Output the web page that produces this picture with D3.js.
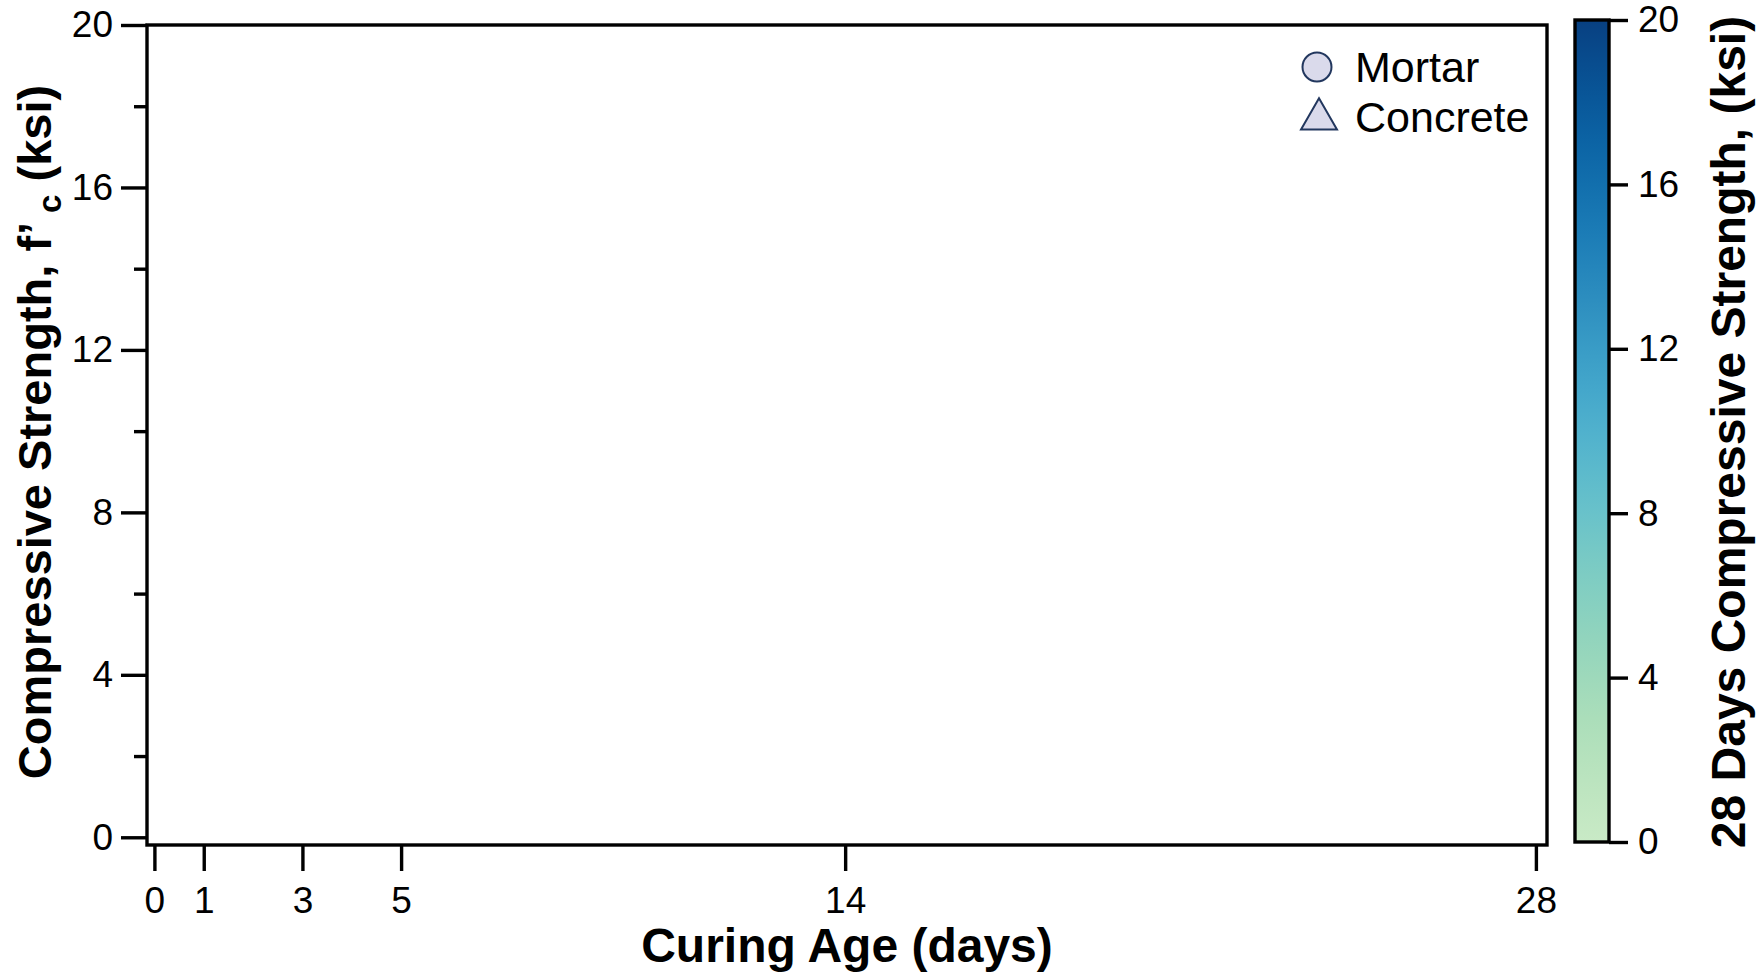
<!DOCTYPE html>
<html>
<head>
<meta charset="utf-8">
<script src="https://cdn.jsdelivr.net/npm/d3@7"></script>
<style>
  body { margin: 0; background: #fff; }
  text { font-family: "Liberation Sans", Arial, sans-serif; }
</style>
</head>
<body>
<svg id="chart"></svg>
<script>
// data
const xTicks = [0, 1, 3, 5, 14, 28];
const yMajorTicks = [0, 4, 8, 12, 16, 20];
const yMinorTicks = [2, 6, 10, 14, 18];
const colorTicks = [0, 4, 8, 12, 16, 20];
const legendLabels = ['Mortar', 'Concrete'];
const legendShapes = [d3.symbolCircle, d3.symbolTriangle];
// no measurements are plotted in the reference
const mortarPoints = [];
const concretePoints = [];

const width = 1758;
const height = 973;
const plot = { left: 147, top: 25, right: 1547, bottom: 845 };
const bar = { left: 1575, right: 1609, top: 20, bottom: 842 };
const lineW = 3.4;
const tickFont = 37;
const titleFont = 48;
const markerFill = '#dadaeb';
const markerStroke = '#22375e';

const translator = (x, y) => `translate(${x},${y})`;

const svg = d3.select('#chart')
  .attr('width', width)
  .attr('height', height);

const x = d3.scaleLinear()
  .domain([-0.15, 28.225])
  .range([plot.left, plot.right]);

const y = d3.scaleLinear()
  .domain([-0.19, 20])
  .range([plot.bottom, plot.top]);

const cScale = d3.scaleLinear()
  .domain([0, 20])
  .range([bar.bottom, bar.top]);

const colorOf = v => d3.interpolateGnBu(0.25 + 0.75 * v / 20);

function styleAxis(g) {
  g.select('.domain').remove();
  g.selectAll('line')
    .attr('stroke', '#000')
    .attr('stroke-width', lineW);
  g.selectAll('text')
    .attr('fill', '#000')
    .style('font-size', `${tickFont}px`)
    .style('font-family', '"Liberation Sans", Arial, sans-serif');
}

function drawAxes() {
  svg.append('g')
    .attr('transform', translator(plot.left, 0))
    .call(d3.axisLeft(y).tickValues(yMinorTicks).tickSize(13).tickFormat(''))
    .call(styleAxis);

  svg.append('g')
    .attr('transform', translator(plot.left, 0))
    .call(d3.axisLeft(y).tickValues(yMajorTicks).tickSize(26).tickPadding(8))
    .call(styleAxis);

  svg.append('g')
    .attr('transform', translator(0, plot.bottom))
    .call(d3.axisBottom(x).tickValues(xTicks).tickSize(26).tickPadding(16))
    .call(styleAxis);

  svg.append('rect')
    .attr('x', plot.left)
    .attr('y', plot.top)
    .attr('width', plot.right - plot.left)
    .attr('height', plot.bottom - plot.top)
    .attr('fill', 'none')
    .attr('stroke', '#000')
    .attr('stroke-width', lineW);

  svg.append('text')
    .attr('x', (plot.left + plot.right) / 2)
    .attr('y', 962)
    .attr('text-anchor', 'middle')
    .attr('font-weight', 'bold')
    .attr('font-size', titleFont)
    .text('Curing Age (days)');

  const yTitle = svg.append('text')
    .attr('transform', `${translator(51, (plot.top + plot.bottom) / 2 - 3)} rotate(-90)`)
    .attr('text-anchor', 'middle')
    .attr('font-weight', 'bold')
    .attr('font-size', 47);
  yTitle.append('tspan').text('Compressive Strength, f\u2019');
  yTitle.append('tspan')
    .attr('font-size', 33)
    .attr('dy', 10)
    .text(' c');
  yTitle.append('tspan')
    .attr('dy', -10)
    .text(' (ksi)');
}

function drawPoints() {
  const symbol = d3.symbol().size(700);
  [mortarPoints, concretePoints].forEach((pts, i) => {
    svg.append('g')
      .selectAll('path')
      .data(pts)
      .join('path')
      .attr('transform', d => translator(x(d.age), y(d.fc)))
      .attr('d', symbol.type(legendShapes[i]))
      .attr('fill', d => colorOf(d.fc28))
      .attr('stroke', markerStroke)
      .attr('stroke-width', 2);
  });
}

function drawLegend() {
  const g = svg.append('g')
    .attr('transform', translator(1317, 67));

  const item = g.selectAll('g')
    .data(legendLabels)
    .join('g')
    .attr('transform', (d, i) => translator(0, i * 50));

  item.append('path')
    .attr('d', (d, i) => d3.symbol().type(legendShapes[i]).size(i ? 560 : 660)())
    .attr('transform', (d, i) => translator(i ? 2 : 0, i ? 2 : 0))
    .attr('fill', markerFill)
    .attr('stroke', markerStroke)
    .attr('stroke-width', 2);

  item.append('text')
    .attr('x', 38)
    .attr('y', 15)
    .attr('font-size', 43)
    .attr('fill', '#000')
    .text(d => d);
}

function drawColorbar() {
  const grad = svg.append('defs')
    .append('linearGradient')
    .attr('id', 'cbar')
    .attr('x1', 0).attr('x2', 0)
    .attr('y1', 1).attr('y2', 0);

  grad.selectAll('stop')
    .data(d3.range(0, 1.0001, 0.05))
    .join('stop')
    .attr('offset', d => d)
    .attr('stop-color', d => colorOf(d * 20));

  svg.append('rect')
    .attr('x', bar.left)
    .attr('y', bar.top)
    .attr('width', bar.right - bar.left)
    .attr('height', bar.bottom - bar.top)
    .attr('fill', 'url(#cbar)')
    .attr('stroke', '#000')
    .attr('stroke-width', lineW);

  svg.append('g')
    .attr('transform', translator(bar.right, 0))
    .call(d3.axisRight(cScale).tickValues(colorTicks).tickSize(19).tickPadding(10))
    .call(styleAxis);

  svg.append('text')
    .attr('transform', `${translator(1745, (bar.top + bar.bottom) / 2 + 1)} rotate(-90)`)
    .attr('text-anchor', 'middle')
    .attr('font-weight', 'bold')
    .attr('font-size', titleFont)
    .text('28 Days Compressive Strength, (ksi)');
}

drawAxes();
drawPoints();
drawLegend();
drawColorbar();
</script>
</body>
</html>
